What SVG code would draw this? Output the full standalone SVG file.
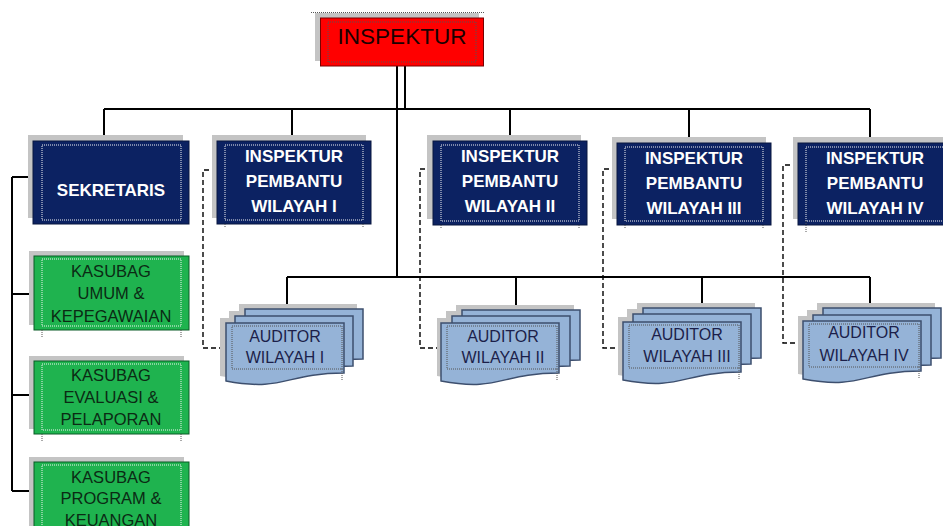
<svg xmlns="http://www.w3.org/2000/svg" xmlns:xlink="http://www.w3.org/1999/xlink" width="943" height="526" viewBox="0 0 943 526">
  <style>
    .shadow { fill: #c4c4c4; }
    .red { fill: #ff0000; stroke: #7a0000; stroke-width: 1; }
    .navy { fill: #0c2262; stroke: #08163f; stroke-width: 1; }
    .green { fill: #1fb34f; stroke: #0b5a27; stroke-width: 1; }
    .doc { fill: #95b3d7; stroke: #3d4f6e; stroke-width: 1.5; }
    .docshadow { fill: #c4c4c4; }
    .inner { fill: none; stroke: #f2f2f2; stroke-width: 1; stroke-dasharray: 1 1; }
    .innerdark { fill: none; stroke: #555; stroke-width: 1; stroke-dasharray: 1 1; }
    .tick { stroke: #555; stroke-width: 1; stroke-dasharray: 1 1; fill: none; }
    .line { stroke: #000; stroke-width: 2; fill: none; }
    .dash { stroke: #000; stroke-width: 1.4; stroke-dasharray: 5 3; fill: none; }
    text { font-family: "Liberation Sans", Arial, sans-serif; text-anchor: middle; }
    .tw { fill: #ffffff; font-weight: bold; font-size: 17px; }
    .tg { fill: #0b2a14; font-size: 16.5px; }
    .ta { fill: #1c1f4a; font-size: 16px; }
    .tr { fill: #1a0000; font-size: 22.5px; }
  </style>
  <defs>
    <!-- flowchart "document" outline with wavy bottom -->
    <path id="doc" d="M0,0 H118 V50 C59,50 59,69 0,58 Z"/>
  </defs>

  <!-- connectors -->
  <g id="connectors">
    <!-- head to first level -->
    <path class="line" d="M397,66 V277"/>
    <path class="line" d="M405,66 V109"/>
    <path class="line" d="M104,109 H870"/>
    <path class="line" d="M104,109 V141 M292,109 V141 M510,109 V141 M689,109 V143 M870,109 V143"/>
    <!-- auditor level -->
    <path class="line" d="M287,277 H870"/>
    <path class="line" d="M287,277 V309 M516,277 V310 M702,277 V308 M870,277 V308"/>
    <!-- secretariat spine -->
    <path class="line" d="M12,177 V491"/>
    <path class="line" d="M12,177 H34 M12,294 H34 M12,395 H34 M12,491 H34"/>
    <!-- dashed coordination links -->
    <path class="dash" d="M217,170 H203 V348 H226"/>
    <path class="dash" d="M433,169 H420 V348 H441"/>
    <path class="dash" d="M617,169 H603 V348 H623"/>
    <path class="dash" d="M798,165 H783 V343 H803"/>
  </g>

  <!-- head -->
  <g id="inspektur">
    <line x1="311" y1="12.5" x2="484" y2="12.5" class="tick"/>
    <rect class="shadow" x="315" y="13" width="164" height="48"/>
    <rect class="red" x="320.5" y="18" width="163" height="48"/>
    <rect class="innerdark" x="328" y="22" width="148" height="40"/>
    <text class="tr" x="402" y="44">INSPEKTUR</text>
  </g>

  <!-- secretariat -->
  <g id="sekretaris">
    <rect class="shadow" x="28" y="135" width="155" height="83"/>
    <rect class="navy" x="33" y="141" width="156" height="83"/>
    <rect class="inner" x="42" y="145" width="139" height="75"/>
    <text class="tw" x="111" y="196" font-size="16">SEKRETARIS</text>
  </g>

  <g id="kasubag-umum">
    <rect class="shadow" x="29" y="251" width="155" height="74"/>
    <rect class="green" x="34" y="256" width="155" height="74"/>
    <rect class="inner" x="42" y="259" width="139" height="67"/>
    <path class="tick" d="M42,330 V338 M181,330 V338"/>
    <text class="tg" x="111" y="277">KASUBAG</text>
    <text class="tg" x="111" y="299">UMUM &amp;</text>
    <text class="tg" x="111" y="322">KEPEGAWAIAN</text>
  </g>

  <g id="kasubag-evaluasi">
    <rect class="shadow" x="29" y="356" width="155" height="73"/>
    <rect class="green" x="34" y="361" width="155" height="73"/>
    <rect class="inner" x="42" y="364" width="139" height="66"/>
    <path class="tick" d="M42,434 V442 M181,434 V442"/>
    <text class="tg" x="111" y="381">KASUBAG</text>
    <text class="tg" x="111" y="403">EVALUASI &amp;</text>
    <text class="tg" x="111" y="425">PELAPORAN</text>
  </g>

  <g id="kasubag-program">
    <rect class="shadow" x="29" y="457" width="155" height="74"/>
    <rect class="green" x="34" y="462" width="155" height="74"/>
    <rect class="inner" x="42" y="465" width="139" height="67"/>
    <text class="tg" x="111" y="483">KASUBAG</text>
    <text class="tg" x="111" y="504">PROGRAM &amp;</text>
    <text class="tg" x="111" y="526">KEUANGAN</text>
  </g>

  <!-- assistant inspectors -->
  <g id="pembantu-1">
    <rect class="shadow" x="212" y="135" width="154" height="83"/>
    <rect class="navy" x="217" y="141" width="154" height="83"/>
    <rect class="inner" x="225" y="145" width="138" height="75"/>
    <path class="tick" d="M225,224 V228 M363,224 V228"/>
    <text class="tw" x="294" y="162">INSPEKTUR</text>
    <text class="tw" x="294" y="187">PEMBANTU</text>
    <text class="tw" x="294" y="212">WILAYAH I</text>
  </g>

  <g id="pembantu-2">
    <rect class="shadow" x="427" y="135" width="154" height="84"/>
    <rect class="navy" x="433" y="141" width="154" height="84"/>
    <rect class="inner" x="441" y="145" width="138" height="76"/>
    <path class="tick" d="M441,225 V229 M579,225 V229"/>
    <text class="tw" x="510" y="162">INSPEKTUR</text>
    <text class="tw" x="510" y="187">PEMBANTU</text>
    <text class="tw" x="510" y="212">WILAYAH II</text>
  </g>

  <g id="pembantu-3">
    <rect class="shadow" x="612" y="137" width="154" height="82"/>
    <rect class="navy" x="617" y="143" width="154" height="82"/>
    <rect class="inner" x="625" y="147" width="138" height="74"/>
    <path class="tick" d="M625,225 V229 M763,225 V229"/>
    <text class="tw" x="694" y="164">INSPEKTUR</text>
    <text class="tw" x="694" y="189">PEMBANTU</text>
    <text class="tw" x="694" y="214">WILAYAH III</text>
  </g>

  <g id="pembantu-4">
    <rect class="shadow" x="793" y="137" width="154" height="82"/>
    <rect class="navy" x="798" y="143" width="154" height="82"/>
    <rect class="inner" x="806" y="147" width="138" height="74"/>
    <path class="tick" d="M806,221 V232"/>
    <text class="tw" x="875" y="164">INSPEKTUR</text>
    <text class="tw" x="875" y="189">PEMBANTU</text>
    <text class="tw" x="875" y="214">WILAYAH IV</text>
  </g>

  <!-- auditor stacks -->
  <g id="auditor-1" transform="translate(226,323)">
    <use xlink:href="#doc" class="docshadow" x="13" y="-19"/>
    <use xlink:href="#doc" class="docshadow" x="3" y="-12"/>
    <use xlink:href="#doc" class="docshadow" x="-6" y="-5"/>
    <use xlink:href="#doc" class="doc" x="19" y="-14"/>
    <use xlink:href="#doc" class="doc" x="9" y="-7"/>
    <use xlink:href="#doc" class="doc"/>
    <rect class="innerdark" x="6" y="3" width="110" height="43"/>
    <path class="tick" d="M116,46 V57"/>
    <text class="ta" x="59" y="19">AUDITOR</text>
    <text class="ta" x="59" y="40">WILAYAH I</text>
  </g>

  <g id="auditor-2" transform="translate(441,323)">
    <use xlink:href="#doc" class="docshadow" x="15" y="-18"/>
    <use xlink:href="#doc" class="docshadow" x="5" y="-12"/>
    <use xlink:href="#doc" class="docshadow" x="-4" y="-5"/>
    <use xlink:href="#doc" class="doc" x="21" y="-13"/>
    <use xlink:href="#doc" class="doc" x="11" y="-7"/>
    <use xlink:href="#doc" class="doc"/>
    <rect class="innerdark" x="6" y="3" width="110" height="43"/>
    <path class="tick" d="M116,46 V57"/>
    <text class="ta" x="62" y="19">AUDITOR</text>
    <text class="ta" x="62" y="40">WILAYAH II</text>
  </g>

  <g id="auditor-3" transform="translate(623,322)">
    <use xlink:href="#doc" class="docshadow" x="14" y="-19"/>
    <use xlink:href="#doc" class="docshadow" x="4" y="-13"/>
    <use xlink:href="#doc" class="docshadow" x="-5" y="-5"/>
    <use xlink:href="#doc" class="doc" x="20" y="-14"/>
    <use xlink:href="#doc" class="doc" x="10" y="-8"/>
    <use xlink:href="#doc" class="doc"/>
    <rect class="innerdark" x="6" y="3" width="110" height="43"/>
    <path class="tick" d="M116,46 V57"/>
    <text class="ta" x="64" y="18">AUDITOR</text>
    <text class="ta" x="64" y="40">WILAYAH III</text>
  </g>

  <g id="auditor-4" transform="translate(803,321)">
    <use xlink:href="#doc" class="docshadow" x="14" y="-18"/>
    <use xlink:href="#doc" class="docshadow" x="4" y="-11"/>
    <use xlink:href="#doc" class="docshadow" x="-5" y="-5"/>
    <use xlink:href="#doc" class="doc" x="20" y="-13"/>
    <use xlink:href="#doc" class="doc" x="10" y="-6"/>
    <use xlink:href="#doc" class="doc"/>
    <rect class="innerdark" x="6" y="3" width="110" height="43"/>
    <path class="tick" d="M116,46 V57"/>
    <text class="ta" x="61" y="17">AUDITOR</text>
    <text class="ta" x="61" y="40">WILAYAH IV</text>
  </g>
</svg>
